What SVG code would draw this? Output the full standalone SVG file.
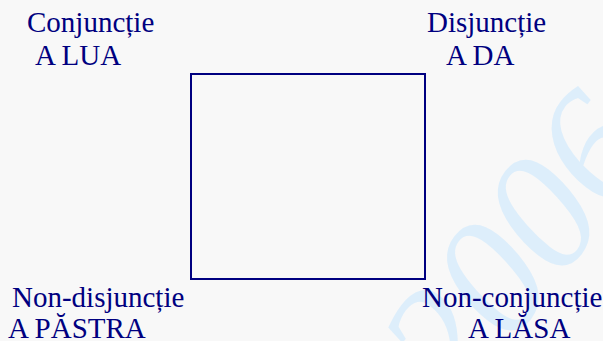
<svg xmlns="http://www.w3.org/2000/svg" width="603" height="341" viewBox="0 0 603 341">
<style>
.lbl{font-family:"Liberation Serif","Times New Roman",serif;font-size:29px;fill:#000080}
.wm{font-family:"Liberation Serif","Times New Roman",serif;font-style:italic;font-size:165px;fill:#ddeefb}
</style>
<rect width="603" height="341" fill="#f8f8f8"/>
<g id="watermark">
<text class="wm" transform="translate(458,410) rotate(-52)">2006</text>
</g>
<g id="square">
<rect x="191" y="74" width="234" height="205" fill="none" stroke="#000080" stroke-width="2"/>
</g>
<g id="connectors"/>
<g id="conjunctie">
<text class="lbl" x="27" y="31.5">Conjuncție</text>
<text class="lbl" x="35" y="65">A LUA</text>
</g>
<g id="disjunctie">
<text class="lbl" x="427" y="31.5">Disjuncție</text>
<text class="lbl" x="446" y="65">A DA</text>
</g>
<g id="non-disjunctie">
<text class="lbl" x="12" y="306.5">Non-disjuncție</text>
<text class="lbl" x="8" y="338">A PĂSTRA</text>
</g>
<g id="non-conjunctie">
<text class="lbl" x="422" y="306.5">Non-conjuncție</text>
<text class="lbl" x="468" y="338">A LĂSA</text>
</g>
</svg>
